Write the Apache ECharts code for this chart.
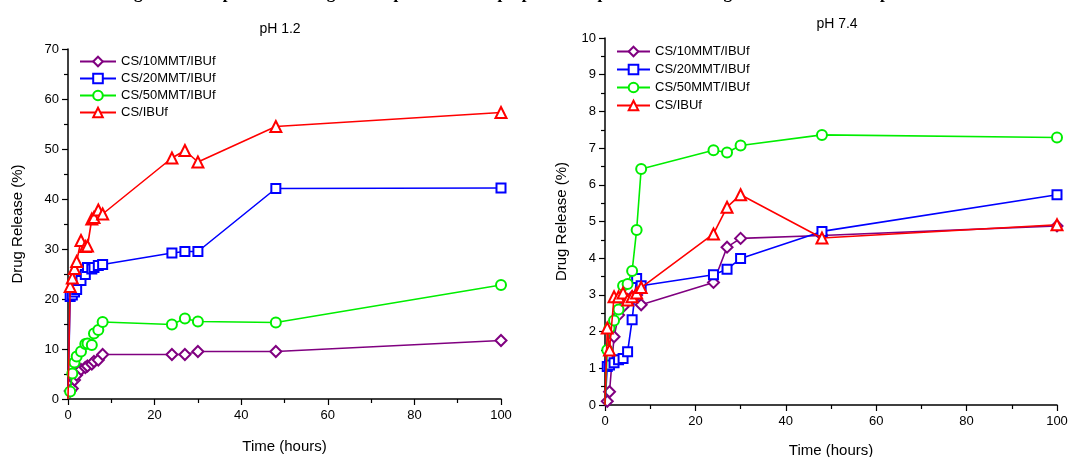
<!DOCTYPE html>
<html>
<head>
<meta charset="utf-8">
<script src="https://cdn.jsdelivr.net/npm/echarts@6/dist/echarts.min.js"></script>
<style>
  html, body { margin: 0; padding: 0; background: #fff; }
  #main { width: 1070px; height: 457px; }
</style>
</head>
<body>
<div id="main"></div>
<script>
// Time points (hours) for each panel
const timeLeft = [0, 0.5, 1, 1.5, 2, 3, 4, 4.5, 5.5, 6, 7, 8, 24, 27, 30, 48, 100]
const timeRight = [0, 0.5, 1, 2, 3, 4, 5, 6, 7, 8, 24, 27, 30, 48, 100]

// pH 1.2 release (%)
const leftMMT10 = [0, 1.6, 2.1, 3.8, 4.8, 5.9, 6.3, 6.6, 7.0, 7.5, 7.8, 8.9, 8.9, 8.9, 9.5, 9.5, 11.7]
const leftMMT20 = [0, 20.5, 20.8, 21.4, 21.9, 23.7, 24.9, 26.3, 26.0, 26.3, 26.7, 26.9, 29.2, 29.5, 29.5, 42.1, 42.2]
const leftMMT50 = [0, 1.5, 5.1, 7.3, 8.5, 9.5, 11.0, 11.1, 10.8, 13.1, 13.8, 15.4, 14.9, 16.1, 15.5, 15.3, 22.8]
const leftIBUf = [0, 22.5, 24.2, 26.1, 27.5, 31.7, 30.5, 30.6, 36.0, 36.3, 37.8, 37.0, 48.2, 49.7, 47.4, 54.5, 57.3]

// pH 7.4 release (%)
const rightMMT10 = [0, 0.1, 0.36, 1.86, 2.45, 2.68, 2.86, 2.95, 3.0, 2.73, 3.34, 4.30, 4.54, 4.62, 4.88]
const rightMMT20 = [0, 1.05, 1.09, 1.15, 1.23, 1.27, 1.45, 2.32, 3.45, 3.25, 3.55, 3.70, 3.99, 4.73, 5.73]
const rightMMT50 = [0, 1.5, 2.1, 2.3, 2.6, 3.25, 3.3, 3.65, 4.77, 6.43, 6.94, 6.88, 7.07, 7.36, 7.29]
const rightIBUf = [0, 2.1, 1.5, 2.95, 2.95, 3.05, 2.86, 2.95, 3.05, 3.2, 4.66, 5.39, 5.73, 4.55, 4.91]

const seriesNames = ['CS/10MMT/IBUf', 'CS/20MMT/IBUf', 'CS/50MMT/IBUf', 'CS/IBUf']
const seriesColors = ['#800080', '#0000ff', '#00ee00', '#ff0000']
const seriesSymbols = ['emptyDiamond', 'emptyRect', 'emptyCircle', 'emptyTriangle']
const symbolSizes = [11, 9, 10, 11]

const font = 'Liberation Sans, Arial, sans-serif'

function pairUp(times, values) {
  // the origin point has no marker in the original figure
  return times.map((t, i) => (t === 0 ? { value: [t, values[i]], symbol: 'none' } : [t, values[i]]))
}

function makeSeries(idx, axisIndex, times, values) {
  return {
    name: seriesNames[idx],
    type: 'line',
    xAxisIndex: axisIndex,
    yAxisIndex: axisIndex,
    data: pairUp(times, values),
    symbol: seriesSymbols[idx],
    symbolSize: symbolSizes[idx],
    showAllSymbol: true,
    color: seriesColors[idx],
    lineStyle: { width: 1.6, color: seriesColors[idx] },
    itemStyle: { color: seriesColors[idx], borderWidth: 1.2 },
    z: 2 + idx,
    animation: false,
  }
}

function xAxisOf(gridIndex, gap) {
  return {
    type: 'value',
    gridIndex: gridIndex,
    min: 0,
    max: 100,
    interval: 20,
    name: 'Time (hours)',
    nameLocation: 'middle',
    nameGap: gap,
    nameTextStyle: { fontFamily: font, fontSize: 15, color: '#000' },
    axisLine: { lineStyle: { color: '#000', width: 1.5 } },
    axisTick: { inside: false, length: 6, lineStyle: { color: '#000', width: 1.2 } },
    minorTick: { show: true, splitNumber: 2, length: 4, lineStyle: { color: '#000', width: 1.2 } },
    axisLabel: { fontFamily: font, fontSize: 13, color: '#000', margin: 10 },
    splitLine: { show: false },
  }
}

function yAxisOf(gridIndex, max, interval, gap) {
  return {
    type: 'value',
    gridIndex: gridIndex,
    min: 0,
    max: max,
    interval: interval,
    name: 'Drug Release (%)',
    nameLocation: 'middle',
    nameRotate: 90,
    nameGap: gap,
    nameTextStyle: { fontFamily: font, fontSize: 15, color: '#000' },
    axisLine: { show: true, lineStyle: { color: '#000', width: 1.5 } },
    axisTick: { show: true, inside: false, length: 6, lineStyle: { color: '#000', width: 1.2 } },
    minorTick: { show: true, splitNumber: 2, length: 4, lineStyle: { color: '#000', width: 1.2 } },
    axisLabel: { fontFamily: font, fontSize: 13, color: '#000', margin: 9 },
    splitLine: { show: false },
  }
}

let myChart = echarts.init(document.getElementById('main'), null, { renderer: 'canvas' })

let option = {
  backgroundColor: '#fff',
  animation: false,
  title: [
    { text: 'pH 1.2', left: 275, top: 17, textAlign: 'center',
      textStyle: { fontFamily: font, fontSize: 14, fontWeight: 'normal', color: '#000' } },
    { text: 'pH 7.4', left: 832, top: 12, textAlign: 'center',
      textStyle: { fontFamily: font, fontSize: 14, fontWeight: 'normal', color: '#000' } },
  ],
  graphic: [
    {
      // caption of the figure, cut off at the top edge in the original
      type: 'text',
      left: 'center',
      top: -15,
      style: {
        text: 'Figure 5. Comparison of drug release profiles of the prepared samples in simulated gastric and intestinal pH media',
        font: 'bold 17px "Liberation Serif", serif',
        fill: '#000',
      },
    },
  ],
  legend: [
    {
      data: seriesNames,
      orient: 'vertical',
      left: 74,
      top: 50,
      itemGap: 4,
      itemWidth: 36,
      itemHeight: 12,
      textStyle: { fontFamily: font, fontSize: 13, color: '#000' },
      selectedMode: false,
    },
    {
      data: seriesNames,
      orient: 'vertical',
      left: 611,
      top: 40,
      itemGap: 5,
      itemWidth: 33,
      itemHeight: 12,
      textStyle: { fontFamily: font, fontSize: 13, color: '#000' },
      selectedMode: false,
    },
  ],
  grid: [
    { left: 68, top: 49, width: 433, height: 350, outerBoundsMode: 'none' },
    { left: 605, top: 38, width: 452, height: 367, outerBoundsMode: 'none' },
  ],
  xAxis: [xAxisOf(0, 40), xAxisOf(1, 38)],
  yAxis: [yAxisOf(0, 70, 10, 43), yAxisOf(1, 10, 1, 36)],
  series: [
    makeSeries(0, 0, timeLeft, leftMMT10),
    makeSeries(1, 0, timeLeft, leftMMT20),
    makeSeries(2, 0, timeLeft, leftMMT50),
    makeSeries(3, 0, timeLeft, leftIBUf),
    makeSeries(0, 1, timeRight, rightMMT10),
    makeSeries(1, 1, timeRight, rightMMT20),
    makeSeries(2, 1, timeRight, rightMMT50),
    makeSeries(3, 1, timeRight, rightIBUf),
  ],
}

myChart.setOption(option)
</script>
</body>
</html>
